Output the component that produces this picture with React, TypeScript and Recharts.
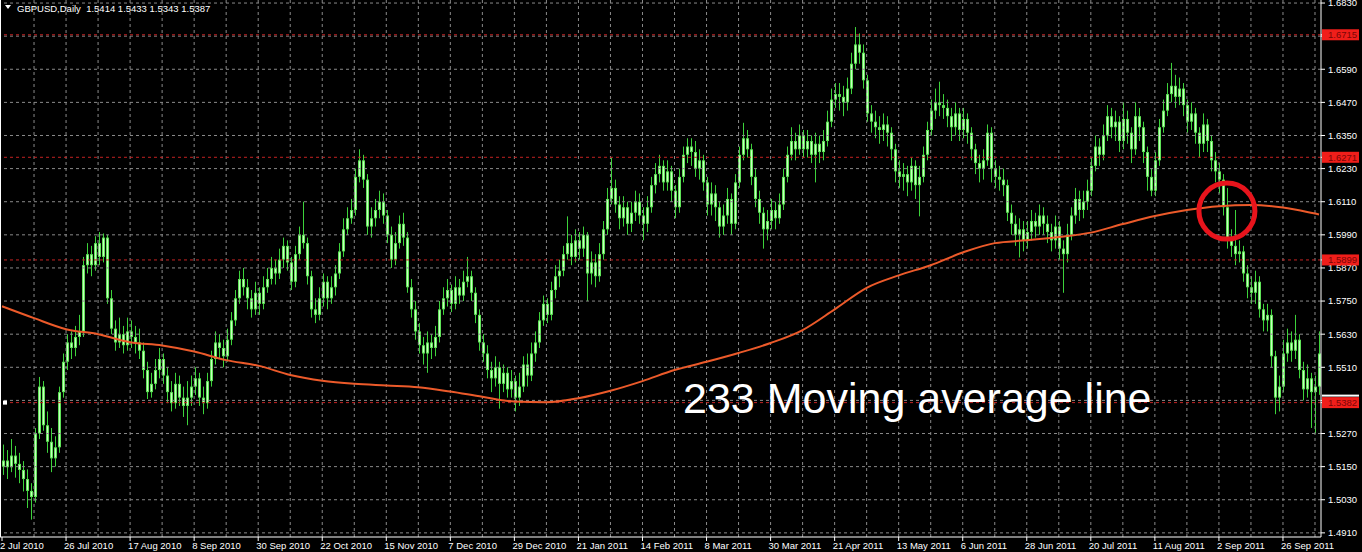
import React from 'react'
import { Bar, ComposedChart, Line, ReferenceDot, ReferenceLine, XAxis, YAxis } from 'recharts'

// GBPUSD daily candles, 2 Jul 2010 .. early Oct 2011
const opens = [
  1.5150, 1.5172, 1.5148, 1.5190, 1.5160, 1.5138, 1.5105, 1.5062, 1.5040, 1.5270,
  1.5440, 1.5300, 1.5240, 1.5180, 1.5220, 1.5420, 1.5530, 1.5600, 1.5580, 1.5620,
  1.5640, 1.5880, 1.5920, 1.5880, 1.5960, 1.5910, 1.5980, 1.5760, 1.5650, 1.5600,
  1.5630, 1.5590, 1.5640, 1.5620, 1.5600, 1.5570, 1.5500, 1.5420, 1.5450, 1.5500,
  1.5540, 1.5480, 1.5420, 1.5380, 1.5450, 1.5400, 1.5370, 1.5400, 1.5440, 1.5470,
  1.5400, 1.5380, 1.5460, 1.5540, 1.5600, 1.5580, 1.5550, 1.5610, 1.5680, 1.5760,
  1.5830, 1.5800, 1.5760, 1.5720, 1.5780, 1.5740, 1.5800, 1.5830, 1.5870, 1.5850,
  1.5900, 1.5950, 1.5890, 1.5820, 1.5920, 1.5990, 1.5960, 1.5840, 1.5720, 1.5700,
  1.5760, 1.5820, 1.5760, 1.5800, 1.5850, 1.5930, 1.6010, 1.6050, 1.6080, 1.6200,
  1.6260, 1.6190, 1.6020, 1.6050, 1.6080, 1.6110, 1.6060, 1.5990, 1.5900, 1.5960,
  1.6030, 1.5980, 1.5800, 1.5720, 1.5640, 1.5590, 1.5560, 1.5600, 1.5580, 1.5620,
  1.5720, 1.5760, 1.5790, 1.5740, 1.5800, 1.5770, 1.5820, 1.5840, 1.5780, 1.5700,
  1.5600, 1.5560, 1.5500, 1.5470, 1.5510, 1.5450, 1.5490, 1.5430, 1.5460, 1.5400,
  1.5440, 1.5520, 1.5480, 1.5560, 1.5600, 1.5680, 1.5740, 1.5700, 1.5790, 1.5840,
  1.5860, 1.5920, 1.5960, 1.5910, 1.5970, 1.5940, 1.5990, 1.5850, 1.5890, 1.5840,
  1.5920, 1.6010, 1.6120, 1.6160, 1.6100, 1.6050, 1.6090, 1.6030, 1.6070, 1.6110,
  1.6060, 1.6030, 1.6090, 1.6170, 1.6210, 1.6240, 1.6180, 1.6220, 1.6150, 1.6090,
  1.6200, 1.6280, 1.6310, 1.6290, 1.6230, 1.6260, 1.6180, 1.6100, 1.6140, 1.6090,
  1.6020, 1.6060, 1.6120, 1.6030, 1.6180, 1.6280, 1.6340, 1.6300, 1.6200, 1.6120,
  1.6070, 1.6010, 1.6040, 1.6080, 1.6050, 1.6100, 1.6200, 1.6280, 1.6330, 1.6300,
  1.6350, 1.6300, 1.6330, 1.6280, 1.6320, 1.6290, 1.6330, 1.6400, 1.6480, 1.6500,
  1.6490, 1.6470, 1.6520, 1.6610, 1.6680, 1.6650, 1.6550, 1.6430, 1.6400, 1.6380,
  1.6370, 1.6390, 1.6360, 1.6300, 1.6220, 1.6200, 1.6210, 1.6180, 1.6240, 1.6170,
  1.6200, 1.6280, 1.6370, 1.6440, 1.6470, 1.6460, 1.6450, 1.6420, 1.6380, 1.6430,
  1.6370, 1.6410, 1.6360, 1.6300, 1.6250, 1.6230, 1.6260, 1.6360, 1.6230, 1.6200,
  1.6190, 1.6170, 1.6070, 1.6030, 1.5990, 1.6010, 1.5970, 1.6000, 1.6040, 1.6020,
  1.6060, 1.6030, 1.6000, 1.5970, 1.6020, 1.5940, 1.5920, 1.5990, 1.6060, 1.6120,
  1.6080, 1.6110, 1.6150, 1.6240, 1.6310, 1.6280, 1.6350, 1.6420, 1.6380, 1.6400,
  1.6330, 1.6410, 1.6360, 1.6300, 1.6420, 1.6380, 1.6290, 1.6200, 1.6150, 1.6260,
  1.6380, 1.6440, 1.6500, 1.6530, 1.6490, 1.6520, 1.6460, 1.6400, 1.6430, 1.6360,
  1.6320, 1.6390, 1.6330, 1.6260, 1.6220, 1.6190, 1.6090, 1.5970, 1.5950, 1.5920,
  1.5930, 1.5850, 1.5800, 1.5780, 1.5820, 1.5720, 1.5680, 1.5700, 1.5550, 1.5400,
  1.5440, 1.5560, 1.5600, 1.5570, 1.5610, 1.5500, 1.5430, 1.5470, 1.5420, 1.5440,
]

const highs = [
  1.5230, 1.5210, 1.5250, 1.5225, 1.5200, 1.5170, 1.5140, 1.5090, 1.5290, 1.5475,
  1.5460, 1.5350, 1.5290, 1.5260, 1.5440, 1.5560, 1.5630, 1.5640, 1.5660, 1.5700,
  1.5910, 1.5960, 1.5950, 1.5985, 1.6000, 1.5995, 1.5990, 1.5790, 1.5680, 1.5690,
  1.5660, 1.5690, 1.5680, 1.5660, 1.5650, 1.5600, 1.5530, 1.5490, 1.5540, 1.5580,
  1.5560, 1.5510, 1.5460, 1.5490, 1.5480, 1.5440, 1.5460, 1.5480, 1.5510, 1.5490,
  1.5440, 1.5490, 1.5570, 1.5640, 1.5630, 1.5610, 1.5650, 1.5710, 1.5790, 1.5860,
  1.5870, 1.5830, 1.5790, 1.5820, 1.5800, 1.5840, 1.5870, 1.5910, 1.5900, 1.5940,
  1.5980, 1.5970, 1.5910, 1.5950, 1.6020, 1.6110, 1.5980, 1.5860, 1.5760, 1.5800,
  1.5850, 1.5840, 1.5840, 1.5880, 1.5960, 1.6050, 1.6090, 1.6120, 1.6230, 1.6300,
  1.6280, 1.6210, 1.6090, 1.6120, 1.6150, 1.6140, 1.6080, 1.6020, 1.6000, 1.6060,
  1.6070, 1.6000, 1.5830, 1.5750, 1.5670, 1.5620, 1.5640, 1.5630, 1.5660, 1.5750,
  1.5800, 1.5830, 1.5810, 1.5840, 1.5830, 1.5860, 1.5910, 1.5860, 1.5800, 1.5720,
  1.5630, 1.5590, 1.5530, 1.5550, 1.5530, 1.5520, 1.5510, 1.5500, 1.5480, 1.5490,
  1.5550, 1.5560, 1.5600, 1.5640, 1.5710, 1.5770, 1.5760, 1.5820, 1.5880, 1.5900,
  1.5950, 1.6057, 1.5990, 1.6010, 1.6000, 1.6020, 1.6000, 1.5930, 1.5920, 1.5960,
  1.6040, 1.6160, 1.6270, 1.6190, 1.6130, 1.6130, 1.6110, 1.6110, 1.6150, 1.6140,
  1.6090, 1.6130, 1.6200, 1.6250, 1.6280, 1.6260, 1.6260, 1.6240, 1.6170, 1.6230,
  1.6310, 1.6340, 1.6340, 1.6330, 1.6300, 1.6280, 1.6200, 1.6180, 1.6170, 1.6110,
  1.6100, 1.6160, 1.6140, 1.6210, 1.6310, 1.6396, 1.6370, 1.6320, 1.6230, 1.6150,
  1.6090, 1.6080, 1.6120, 1.6110, 1.6140, 1.6230, 1.6310, 1.6380, 1.6360, 1.6390,
  1.6370, 1.6370, 1.6350, 1.6360, 1.6350, 1.6370, 1.6440, 1.6520, 1.6540, 1.6540,
  1.6530, 1.6560, 1.6650, 1.6743, 1.6720, 1.6680, 1.6570, 1.6460, 1.6440, 1.6420,
  1.6430, 1.6420, 1.6380, 1.6320, 1.6260, 1.6250, 1.6240, 1.6270, 1.6260, 1.6240,
  1.6310, 1.6400, 1.6480, 1.6520, 1.6545, 1.6500, 1.6480, 1.6450, 1.6470, 1.6450,
  1.6450, 1.6430, 1.6380, 1.6320, 1.6280, 1.6300, 1.6390, 1.6380, 1.6260, 1.6240,
  1.6230, 1.6190, 1.6100, 1.6060, 1.6050, 1.6040, 1.6040, 1.6080, 1.6070, 1.6100,
  1.6090, 1.6060, 1.6030, 1.6060, 1.6040, 1.5970, 1.6030, 1.6090, 1.6160, 1.6150,
  1.6150, 1.6190, 1.6270, 1.6350, 1.6340, 1.6390, 1.6460, 1.6450, 1.6440, 1.6420,
  1.6470, 1.6440, 1.6380, 1.6470, 1.6450, 1.6400, 1.6310, 1.6230, 1.6290, 1.6410,
  1.6480, 1.6540, 1.6613, 1.6570, 1.6560, 1.6540, 1.6480, 1.6470, 1.6450, 1.6380,
  1.6430, 1.6410, 1.6350, 1.6290, 1.6250, 1.6210, 1.6160, 1.6010, 1.6080, 1.5970,
  1.5950, 1.5880, 1.5840, 1.5860, 1.5840, 1.5740, 1.5740, 1.5720, 1.5570, 1.5480,
  1.5610, 1.5650, 1.5640, 1.5700, 1.5630, 1.5530, 1.5520, 1.5490, 1.5480, 1.5640,
]

const lows = [
  1.5120, 1.5105, 1.5130, 1.5110, 1.5090, 1.5060, 1.5000, 1.4958, 1.5020, 1.5250,
  1.5280, 1.5200, 1.5130, 1.5150, 1.5200, 1.5400, 1.5500, 1.5540, 1.5550, 1.5590,
  1.5620, 1.5850, 1.5840, 1.5860, 1.5880, 1.5890, 1.5740, 1.5630, 1.5570, 1.5580,
  1.5560, 1.5570, 1.5580, 1.5560, 1.5540, 1.5470, 1.5395, 1.5400, 1.5430, 1.5470,
  1.5450, 1.5380, 1.5350, 1.5360, 1.5370, 1.5330, 1.5300, 1.5370, 1.5410, 1.5370,
  1.5340, 1.5360, 1.5440, 1.5520, 1.5540, 1.5510, 1.5530, 1.5590, 1.5660, 1.5740,
  1.5770, 1.5720, 1.5690, 1.5700, 1.5700, 1.5720, 1.5780, 1.5810, 1.5810, 1.5830,
  1.5870, 1.5860, 1.5790, 1.5800, 1.5900, 1.5940, 1.5810, 1.5690, 1.5670, 1.5680,
  1.5730, 1.5720, 1.5740, 1.5770, 1.5830, 1.5910, 1.5990, 1.6030, 1.6060, 1.6180,
  1.6160, 1.5990, 1.5980, 1.6020, 1.6050, 1.6030, 1.5960, 1.5870, 1.5880, 1.5940,
  1.5950, 1.5780, 1.5690, 1.5610, 1.5560, 1.5520, 1.5490, 1.5540, 1.5550, 1.5600,
  1.5700, 1.5730, 1.5710, 1.5720, 1.5740, 1.5750, 1.5800, 1.5750, 1.5670, 1.5570,
  1.5530, 1.5470, 1.5420, 1.5440, 1.5360, 1.5420, 1.5400, 1.5400, 1.5350, 1.5370,
  1.5420, 1.5440, 1.5460, 1.5530, 1.5580, 1.5660, 1.5670, 1.5680, 1.5760, 1.5800,
  1.5840, 1.5900, 1.5880, 1.5890, 1.5900, 1.5910, 1.5750, 1.5810, 1.5800, 1.5820,
  1.5900, 1.5990, 1.6100, 1.6070, 1.6010, 1.6020, 1.5990, 1.6000, 1.6040, 1.6030,
  1.5970, 1.6000, 1.6070, 1.6140, 1.6180, 1.6150, 1.6150, 1.6110, 1.6050, 1.6070,
  1.6180, 1.6250, 1.6240, 1.6200, 1.6190, 1.6150, 1.6060, 1.6060, 1.6040, 1.5980,
  1.5990, 1.6030, 1.5990, 1.6010, 1.6160, 1.6260, 1.6270, 1.6170, 1.6090, 1.6030,
  1.5940, 1.5970, 1.6010, 1.6010, 1.6030, 1.6080, 1.6180, 1.6260, 1.6260, 1.6280,
  1.6270, 1.6270, 1.6250, 1.6180, 1.6250, 1.6260, 1.6310, 1.6380, 1.6450, 1.6440,
  1.6420, 1.6440, 1.6500, 1.6590, 1.6610, 1.6520, 1.6400, 1.6360, 1.6340, 1.6320,
  1.6330, 1.6310, 1.6260, 1.6180, 1.6160, 1.6150, 1.6130, 1.6150, 1.6120, 1.6057,
  1.6180, 1.6260, 1.6350, 1.6410, 1.6420, 1.6410, 1.6380, 1.6330, 1.6350, 1.6330,
  1.6340, 1.6320, 1.6260, 1.6210, 1.6180, 1.6190, 1.6240, 1.6180, 1.6160, 1.6150,
  1.6130, 1.6040, 1.5990, 1.5950, 1.5908, 1.5930, 1.5940, 1.5970, 1.5980, 1.5990,
  1.5990, 1.5960, 1.5930, 1.5940, 1.5900, 1.5780, 1.5890, 1.5970, 1.6030, 1.6040,
  1.6050, 1.6080, 1.6130, 1.6220, 1.6240, 1.6260, 1.6330, 1.6340, 1.6330, 1.6290,
  1.6300, 1.6320, 1.6250, 1.6280, 1.6330, 1.6250, 1.6150, 1.6130, 1.6130, 1.6240,
  1.6360, 1.6420, 1.6470, 1.6450, 1.6460, 1.6420, 1.6360, 1.6370, 1.6320, 1.6270,
  1.6290, 1.6290, 1.6220, 1.6180, 1.6140, 1.6060, 1.5940, 1.5910, 1.5880, 1.5890,
  1.5820, 1.5760, 1.5740, 1.5740, 1.5690, 1.5640, 1.5640, 1.5510, 1.5340, 1.5350,
  1.5420, 1.5530, 1.5530, 1.5540, 1.5470, 1.5390, 1.5400, 1.5290, 1.5270, 1.5410,
]

const closes = [
  1.5172, 1.5148, 1.5190, 1.5160, 1.5138, 1.5105, 1.5062, 1.5040, 1.5270, 1.5440,
  1.5300, 1.5240, 1.5180, 1.5220, 1.5420, 1.5530, 1.5600, 1.5580, 1.5620, 1.5640,
  1.5880, 1.5920, 1.5880, 1.5960, 1.5910, 1.5980, 1.5760, 1.5650, 1.5600, 1.5630,
  1.5590, 1.5640, 1.5620, 1.5600, 1.5570, 1.5500, 1.5420, 1.5450, 1.5500, 1.5540,
  1.5480, 1.5420, 1.5380, 1.5450, 1.5400, 1.5370, 1.5400, 1.5440, 1.5470, 1.5400,
  1.5380, 1.5460, 1.5540, 1.5600, 1.5580, 1.5550, 1.5610, 1.5680, 1.5760, 1.5830,
  1.5800, 1.5760, 1.5720, 1.5780, 1.5740, 1.5800, 1.5830, 1.5870, 1.5850, 1.5900,
  1.5950, 1.5890, 1.5820, 1.5920, 1.5990, 1.5960, 1.5840, 1.5720, 1.5700, 1.5760,
  1.5820, 1.5760, 1.5800, 1.5850, 1.5930, 1.6010, 1.6050, 1.6080, 1.6200, 1.6260,
  1.6190, 1.6020, 1.6050, 1.6080, 1.6110, 1.6060, 1.5990, 1.5900, 1.5960, 1.6030,
  1.5980, 1.5800, 1.5720, 1.5640, 1.5590, 1.5560, 1.5600, 1.5580, 1.5620, 1.5720,
  1.5760, 1.5790, 1.5740, 1.5800, 1.5770, 1.5820, 1.5840, 1.5780, 1.5700, 1.5600,
  1.5560, 1.5500, 1.5470, 1.5510, 1.5450, 1.5490, 1.5430, 1.5460, 1.5400, 1.5440,
  1.5520, 1.5480, 1.5560, 1.5600, 1.5680, 1.5740, 1.5700, 1.5790, 1.5840, 1.5860,
  1.5920, 1.5960, 1.5910, 1.5970, 1.5940, 1.5990, 1.5850, 1.5890, 1.5840, 1.5920,
  1.6010, 1.6120, 1.6160, 1.6100, 1.6050, 1.6090, 1.6030, 1.6070, 1.6110, 1.6060,
  1.6030, 1.6090, 1.6170, 1.6210, 1.6240, 1.6180, 1.6220, 1.6150, 1.6090, 1.6200,
  1.6280, 1.6310, 1.6290, 1.6230, 1.6260, 1.6180, 1.6100, 1.6140, 1.6090, 1.6020,
  1.6060, 1.6120, 1.6030, 1.6180, 1.6280, 1.6340, 1.6300, 1.6200, 1.6120, 1.6070,
  1.6010, 1.6040, 1.6080, 1.6050, 1.6100, 1.6200, 1.6280, 1.6330, 1.6300, 1.6350,
  1.6300, 1.6330, 1.6280, 1.6320, 1.6290, 1.6330, 1.6400, 1.6480, 1.6500, 1.6490,
  1.6470, 1.6520, 1.6610, 1.6680, 1.6650, 1.6550, 1.6430, 1.6400, 1.6380, 1.6370,
  1.6390, 1.6360, 1.6300, 1.6220, 1.6200, 1.6210, 1.6180, 1.6240, 1.6170, 1.6200,
  1.6280, 1.6370, 1.6440, 1.6470, 1.6460, 1.6450, 1.6420, 1.6380, 1.6430, 1.6370,
  1.6410, 1.6360, 1.6300, 1.6250, 1.6230, 1.6260, 1.6360, 1.6230, 1.6200, 1.6190,
  1.6170, 1.6070, 1.6030, 1.5990, 1.6010, 1.5970, 1.6000, 1.6040, 1.6020, 1.6060,
  1.6030, 1.6000, 1.5970, 1.6020, 1.5940, 1.5920, 1.5990, 1.6060, 1.6120, 1.6080,
  1.6110, 1.6150, 1.6240, 1.6310, 1.6280, 1.6350, 1.6420, 1.6380, 1.6400, 1.6330,
  1.6410, 1.6360, 1.6300, 1.6420, 1.6380, 1.6290, 1.6200, 1.6150, 1.6260, 1.6380,
  1.6440, 1.6500, 1.6530, 1.6490, 1.6520, 1.6460, 1.6400, 1.6430, 1.6360, 1.6320,
  1.6390, 1.6330, 1.6260, 1.6220, 1.6190, 1.6090, 1.5970, 1.5950, 1.5920, 1.5930,
  1.5850, 1.5800, 1.5780, 1.5820, 1.5720, 1.5680, 1.5700, 1.5550, 1.5400, 1.5440,
  1.5560, 1.5600, 1.5570, 1.5610, 1.5500, 1.5430, 1.5470, 1.5420, 1.5440, 1.5560,
]

// 233-period moving average, read every 8 bars
const maBars = [0, 8, 16, 24, 32, 40, 48, 56, 64, 72, 80, 88, 96, 104, 112, 120, 128, 136, 144, 152, 160,
  168, 176, 184, 192, 200, 208, 216, 224, 232, 240, 248, 256, 264, 272, 280, 288, 296, 304, 312, 320, 328, 329]
const maValues = [1.5731, 1.5688, 1.5648, 1.5630, 1.5601, 1.5589, 1.5567, 1.5536, 1.5516, 1.5482, 1.5461,
  1.5450, 1.5444, 1.5438, 1.5422, 1.5403, 1.5386, 1.5383, 1.5398, 1.5425, 1.5460, 1.5500, 1.5530, 1.5562,
  1.5598, 1.5645, 1.5720, 1.5798, 1.5843, 1.5880, 1.5926, 1.5960, 1.5970, 1.5982, 1.5998, 1.6029, 1.6058,
  1.6080, 1.6094, 1.6098, 1.6089, 1.6067, 1.6064]

const dateTicks = [0, 16, 32, 48, 64, 80, 96, 112, 128, 144, 160, 176, 192, 208, 224, 240, 256, 272, 288, 304, 320]
const dateLabels = ['2 Jul 2010', '26 Jul 2010', '17 Aug 2010', '8 Sep 2010', '30 Sep 2010', '22 Oct 2010',
  '15 Nov 2010', '7 Dec 2010', '29 Dec 2010', '21 Jan 2011', '14 Feb 2011', '8 Mar 2011', '30 Mar 2011',
  '21 Apr 2011', '13 May 2011', '6 Jun 2011', '28 Jun 2011', '20 Jul 2011', '11 Aug 2011', '2 Sep 2011',
  '26 Sep 2011']

const priceTicks = [1.4910, 1.5030, 1.5150, 1.5270, 1.5390, 1.5510, 1.5630, 1.5750, 1.5870, 1.5990,
  1.6110, 1.6230, 1.6350, 1.6470, 1.6590, 1.6710, 1.6830]
const levels = [1.6715, 1.6271, 1.5899, 1.5382]

const gridBars = [8, 16, 24, 32, 40, 48, 56, 64, 72, 80, 88, 96, 104, 112, 120, 128, 136, 144, 152, 160, 168,
  176, 184, 192, 200, 208, 216, 224, 232, 240, 248, 256, 264, 272, 280, 288, 296, 304, 312, 320, 328]

const maByBar: Record<number, number> = {}
maBars.forEach((b, k) => { maByBar[b] = maValues[k] })

const rows = closes.map((c, i) => ({
  i,
  o: opens[i],
  c,
  range: [lows[i], highs[i]],
  ma: maByBar[i] ?? null,
}))

const FONT = "'Liberation Sans', Arial, sans-serif"

const Candle = (props: any) => {
  const { x, y, width, height, payload } = props
  const lo = payload.range[0]
  const hi = payload.range[1]
  const k = hi > lo ? height / (hi - lo) : 0
  const top = y + (hi - Math.max(payload.o, payload.c)) * k
  const bot = y + (hi - Math.min(payload.o, payload.c)) * k
  const cx = Math.round(x + width / 2)
  return (
    <g>
      <line x1={cx + 0.5} x2={cx + 0.5} y1={y} y2={y + height} stroke="#3cd23a" strokeWidth={1} />
      <rect x={cx - 1} y={top} width={3} height={Math.max(1, bot - top)} fill="#5fe257" />
      {bot - top > 3 && (
        <line x1={cx + 0.5} x2={cx + 0.5} y1={top + 1} y2={bot - 1} stroke="#c8ffc0" strokeWidth={1} />
      )}
    </g>
  )
}

const PriceTick = (props: any) => {
  const { x, y, payload } = props
  const v = payload.value as number
  if (levels.includes(v)) {
    return (
      <g>
        {v === 1.5382 && <rect x={x - 6} y={y - 8} width={37} height={2} fill="#ffffff" />}
        <rect x={x - 6} y={y - 5.5} width={37} height={11} fill="#f01e1a" />
        <text x={x} y={y} dy="0.35em" fill="#7a0606" fontSize={9.5} fontFamily={FONT}>{v.toFixed(4)}</text>
      </g>
    )
  }
  return (
    <text x={x} y={y} dy="0.35em" fill="#ffffff" fontSize={9.5} fontFamily={FONT}>{v.toFixed(4)}</text>
  )
}

const DateTick = (props: any) => {
  const { x, payload } = props
  const k = dateTicks.indexOf(payload.value)
  return (
    <text x={x - 2} y={549} fill="#ffffff" fontSize={9.5} fontFamily={FONT}>{dateLabels[k]}</text>
  )
}

const Square = (props: any) => <rect x={props.cx + 1} y={props.cy - 2} width={4} height={4} fill="#ffffff" />

export default function App() {
  return (
    <div style={{ position: 'fixed', left: 0, top: 0, width: 1362, height: 552, background: '#000' }}>
      <ComposedChart width={1362} height={552} data={rows} margin={{ top: 0, right: 0, bottom: 0, left: 0 }}>
        <XAxis
          dataKey="i"
          type="category"
          ticks={dateTicks}
          interval={0}
          tick={<DateTick />}
          tickSize={4}
          height={15}
          stroke="#ffffff"
          axisLine={{ stroke: '#ffffff' }}
          tickLine={{ stroke: '#ffffff' }}
        />
        <YAxis
          orientation="right"
          type="number"
          domain={[1.4895, 1.6841]}
          allowDataOverflow
          ticks={[...priceTicks, ...levels]}
          interval={0}
          tick={<PriceTick />}
          tickSize={4}
          tickMargin={3}
          width={41}
          axisLine={{ stroke: '#ffffff' }}
          tickLine={{ stroke: '#ffffff' }}
        />
        {priceTicks.map((p) => (
          <ReferenceLine key={'h' + p} y={p} stroke="#8a8a8a" strokeDasharray="3 3" />
        ))}
        {gridBars.map((b) => (
          <ReferenceLine key={'v' + b} x={b} stroke="#8a8a8a" strokeDasharray="3 3" />
        ))}
        {levels.map((p) => (
          <ReferenceLine key={'l' + p} y={p} stroke="#c42222" strokeDasharray="3 3" />
        ))}
        <Bar dataKey="range" barSize={3} shape={<Candle />} isAnimationActive={false} />
        <Line
          dataKey="ma"
          type="monotone"
          connectNulls
          stroke="#ec5a2a"
          strokeWidth={2}
          dot={false}
          activeDot={false}
          isAnimationActive={false}
        />
        <ReferenceDot x={306} y={1.6076} r={28} fill="none" stroke="#e8141c" strokeWidth={5} />
        <ReferenceDot x={0} y={1.5382} r={2} shape={<Square />} />
      </ComposedChart>
      <svg width={1362} height={552} style={{ position: 'absolute', left: 0, top: 0, pointerEvents: 'none' }}>
        <rect x={0} y={0} width={1} height={537} fill="#ffffff" />
        <polygon points="5,5 11,5 8,9" fill="#ffffff" />
        <text x={17} y={11.5} fill="#ffffff" fontSize={9.5} fontFamily={FONT} style={{ whiteSpace: 'pre' }}>
          {'GBPUSD,Daily  1.5414 1.5433 1.5343 1.5387'}
        </text>
        <text x={683} y={413} fill="#ffffff" fontSize={43} fontFamily={FONT}>233 Moving average line</text>
      </svg>
    </div>
  )
}
